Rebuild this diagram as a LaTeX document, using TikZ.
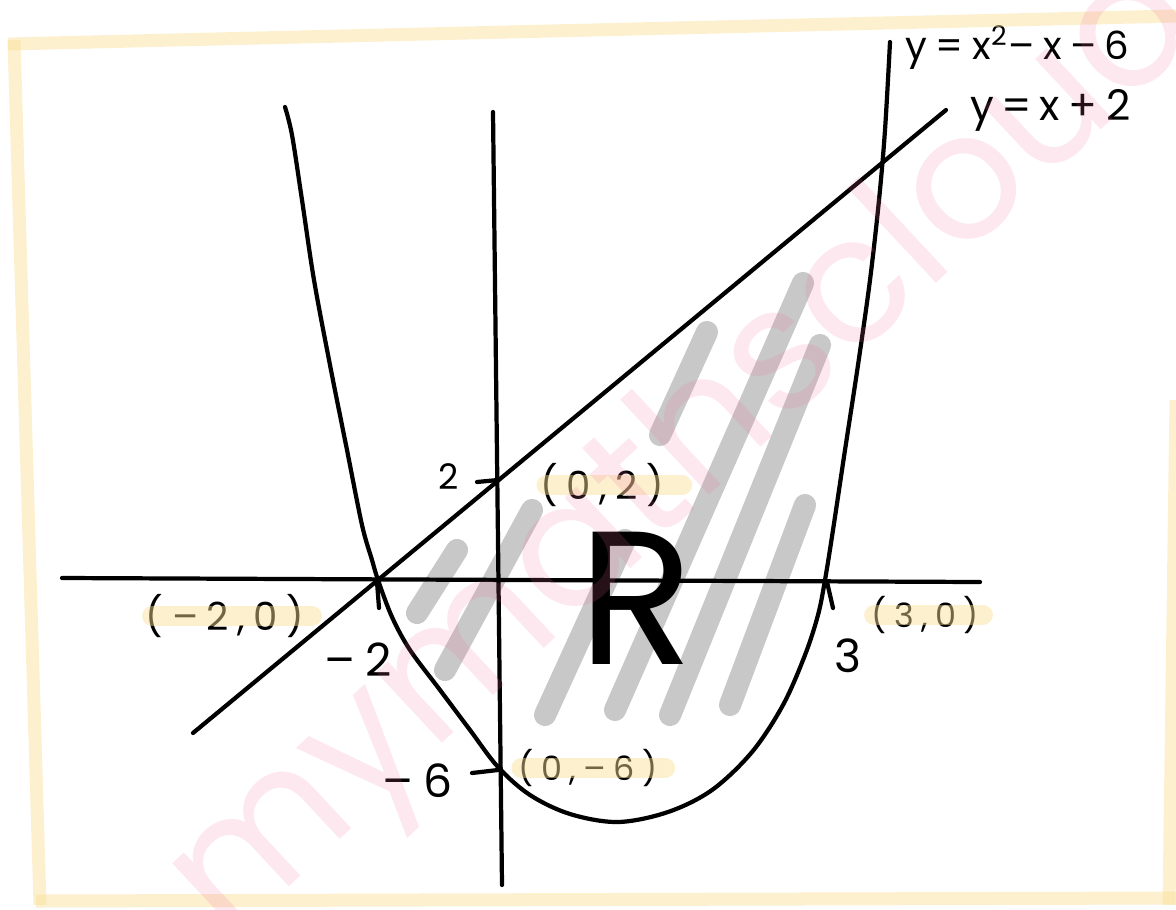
\documentclass[tikz,border=0pt]{standalone}
\usepackage{fontspec}
\usetikzlibrary{calc}
\newfontfamily\handfont[LetterSpace=22]{Poppins}
\newfontfamily\markfont{Poppins}
\definecolor{gfmark}{HTML}{F8DE96}
\definecolor{gfhatch}{HTML}{C8C8C8}
\definecolor{gfwater}{HTML}{F06EA0}
\tikzset{
  gfcurve/.style={line width=1.2pt, draw=black, line cap=round, line join=round},
  gfhatch/.style={line width=6.3pt, draw=gfhatch, line cap=round},
  gfframe/.style={line width=3.7pt, draw=gfmark, opacity=0.46},
  gfband/.style={line width=5.8pt, draw=gfmark, opacity=0.46, line cap=round},
  gfnum/.style={font=\handfont\fontsize{13}{13}\selectfont, inner sep=0pt},
  gfpt/.style={font=\handfont\fontsize{11}{11}\selectfont, inner sep=0pt},
  gfeq/.style={font=\handfont\fontsize{11}{11}\selectfont, inner sep=0pt, anchor=west}
}

\begin{document}
\begin{tikzpicture}[x=0.01cm, y=-0.01cm]
\useasboundingbox (0,0) rectangle (1176,909);
% shading of the region
\foreach \xa/\ya/\xb/\yb in {457/550/417/613, 532/510/445/670, 707/332/660/435,
    625/540/545/715, 803/283/615/710, 820/345/670/715, 805/505/730/705}
  \draw[gfhatch] (\xa,\ya) -- (\xb,\yb);
% axes
\coordinate (xl) at (62,578);
\coordinate (xr) at (980,582);
\coordinate (yt) at (493,112);
\coordinate (yb) at (502,885);
\draw[gfcurve] (xl) -- (xr);
\draw[gfcurve] (yt) -- (yb);
% line and curve
\coordinate (lnA) at (193,733);
\coordinate (lnB) at (946,110);
\draw[gfcurve] (lnA) -- (lnB);
\draw[gfcurve] plot[smooth, tension=0.55] coordinates {(285,107) (292,135) (302,200)
  (314,280) (330,365) (347,450) (362,525) (372,560) (378,580) (392,617) (410,650)
  (440,690) (470,730) (498,767) (530,795) (570,814) (618,822) (668,812) (712,790)
  (752,752) (783,705) (805,655) (818,615) (825,580) (833,530) (845,450) (858,365)
  (870,280) (879,200) (885,130) (890,42)};
% ticks
\draw[gfcurve] (477,482) -- (498,480);
\draw[gfcurve] (472,773) -- (498,770);
\draw[gfcurve] (377,582) -- (379,608);
\draw[gfcurve] (827,582) -- (833,608);
% labels
\node[gfnum, font=\handfont\fontsize{10}{10}\selectfont] (t2) at (449,477) {2};
\node[gfnum] (tm6) at (418,781) {–6};
\node[gfnum] (tm2) at (358,660) {–2};
\node[gfnum] (t3) at (848,656) {3};
\node[font=\markfont\fontsize{54}{54}\selectfont, inner sep=0pt] (reg) at (636,598) {R};
\node[gfeq] (eqc) at (905,48) {y=x\textsuperscript{2}–x–6};
\node[gfeq, font=\handfont\fontsize{12}{12}\selectfont] (eql) at (970,110) {y\,=\,x+2};
\node[gfpt] (p02) at (602,485) {(0,2)};
\node[gfpt] (pm20) at (225,616) {(–2,0)};
\node[gfpt, font=\handfont\fontsize{9.5}{9.5}\selectfont] (p0m6) at (588,768) {(0,–6)};
\node[gfpt, font=\handfont\fontsize{9.5}{9.5}\selectfont] (p30) at (925,615) {(3,0)};
% highlighter
\draw[gfband] ([xshift=2pt]p02.west) -- ([xshift=5pt]p02.east);
\draw[gfband] ([xshift=2pt]pm20.west) -- ([xshift=2pt]pm20.east);
\draw[gfband] ([xshift=1pt]p0m6.west) -- ([xshift=2pt]p0m6.east);
\draw[gfband] ([xshift=1pt]p30.west) -- ([xshift=1pt]p30.east);
% frame
\draw[gfframe] (8,44) -- (1176,16);
\draw[gfframe] (14,40) -- (40,905);
\draw[gfframe] (36,901) -- (1176,898);
\draw[gfframe] (1176,400) -- (1169,905);
% watermark
\node[font=\markfont\fontsize{50}{50}\selectfont, text=gfwater, opacity=0.16,
  rotate=43, inner sep=0pt] (wm) at (690,455) {mymathscloud};
\end{tikzpicture}
\end{document}
